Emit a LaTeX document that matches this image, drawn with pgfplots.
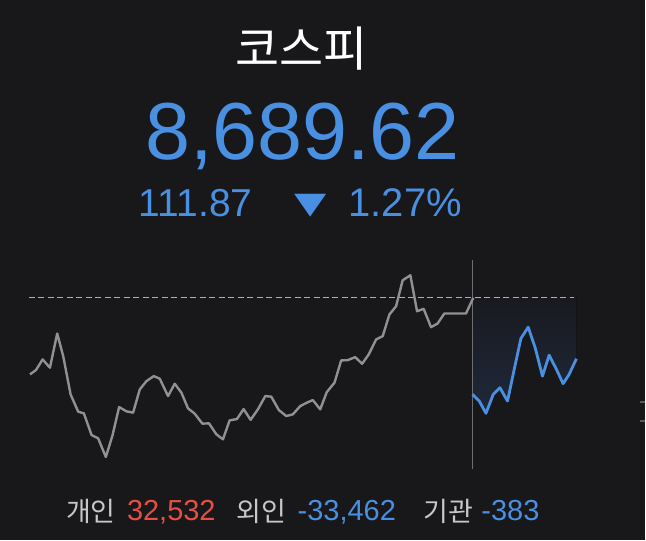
\documentclass[border=0pt]{standalone}
\usepackage{pgfplots}
\pgfplotsset{compat=1.18}
\usepgfplotslibrary{fillbetween}
\usepackage{fontspec}
\setmainfont{Liberation Sans}
\newfontfamily\kr{Noto Sans CJK KR}
\newfontfamily\sym{DejaVu Sans}

\definecolor{bg}{RGB}{24,24,27}
\definecolor{upblue}{RGB}{74,144,226}
\definecolor{upred}{RGB}{229,80,68}
\definecolor{linegray}{RGB}{145,145,147}
\definecolor{txtgray}{RGB}{200,200,202}

% intraday index, x = time slot (px), y = level (px from top)
\pgfplotstableread{
x y
30 375
36 370.7
42.7 360
50 368.3
57.3 334
63.3 356.7
70.7 395
78.3 412.3
84 414
91.7 435.7
98.3 439
106 457.7
112.7 436
119.3 407.7
126.7 412
133.3 413.3
140 390
146.7 381.7
154 376.7
160 379.3
168.3 396.7
175 384.3
181.7 393.3
188.3 409
195 414.3
202.7 424.3
209.3 424
216.7 435
223.3 440
230 421
237.3 419.7
244 409.7
251 420.5
258.3 410
265.7 396.7
271.7 397.3
279.3 410.7
286.7 416.7
293.3 415
300.7 406.7
307.3 403.3
313.3 400.7
320.7 410
327.3 392.7
335 383.3
341.7 361
348.3 360.7
355.7 357.7
362.7 364.3
369.3 355
376.7 340
383.3 336.7
390 315
396.7 306.7
403.3 280.7
411 275.7
417.7 311.7
424.3 309.3
431.7 327.7
438.3 324
445 314
452.3 314
460 314
466.7 314
474 298.3
}\prevday

\pgfplotstableread{
x y
473.3 395
480 401.7
486.7 414
494 395
500.7 388.3
508.3 401.7
515 370
521.7 339
529 327.7
536 348.3
543.3 376.7
550 355.7
557.3 370
564 384.3
570 375
577.3 359.3
}\today

\begin{document}
\begin{tikzpicture}
\begin{axis}[
    width=646bp, height=541bp, scale only axis,
    xmin=0, xmax=646, ymin=0, ymax=541, y dir=reverse,
    axis lines=none, xtick=\empty, ytick=\empty,
    axis background/.style={fill=bg},
    clip=false,
]
% previous close
\addplot[draw=none, name path=base, forget plot] coordinates {(473.3,297.7) (577.3,297.7)};
\addplot[draw=none, name path=cur, forget plot] table[x=x, y=y] {\today};
\addplot[top color={rgb,255:red,25;green,26;blue,32}, bottom color={rgb,255:red,31;green,40;blue,58}, draw=none]
    fill between[of=base and cur];
\addplot[dash pattern=on 6bp off 3.5bp, color={rgb,255:red,175;green,175;blue,178}, line width=1.4bp]
    coordinates {(29,297.7) (575,297.7)};
\addplot[color={rgb,255:red,110;green,110;blue,112}, line width=1.4bp]
    coordinates {(473.3,260) (473.3,470)};
\addplot[linegray, line width=2.4bp, line join=round] table[x=x, y=y] {\prevday};
\addplot[upblue, line width=2.8bp, line join=round] table[x=x, y=y] {\today};
\addplot[color={rgb,255:red,90;green,90;blue,92}, line width=2bp] coordinates {(641,403) (646,403)};
\addplot[color={rgb,255:red,90;green,90;blue,92}, line width=2bp] coordinates {(641,422) (646,422)};

% header
\node[anchor=base, inner sep=0, text=white, font=\kr\fontsize{48bp}{48bp}\selectfont] at (axis cs:302,67) {코스피};
\node[anchor=base, inner sep=0, text=upblue, font=\fontsize{81bp}{81bp}\selectfont] at (axis cs:303,160) {8,689.62};
\node[anchor=base west, inner sep=0, text=upblue, font=\fontsize{39bp}{39bp}\selectfont] at (axis cs:139,217) {111.87};
\node[anchor=base, inner sep=0, xscale=1.4, text=upblue, font=\sym\fontsize{30bp}{30bp}\selectfont] at (axis cs:311.5,214) {▼};
\node[anchor=base west, inner sep=0, text=upblue, font=\fontsize{40bp}{40bp}\selectfont] at (axis cs:349,217) {1.27\%};

% investor flows
\node[anchor=base west, inner sep=0, text=txtgray, font=\kr\fontsize{27bp}{27bp}\selectfont] at (axis cs:66,522) {개인};
\node[anchor=base west, inner sep=0, text=upred, font=\fontsize{29bp}{29bp}\selectfont] at (axis cs:127,521) {32,532};
\node[anchor=base west, inner sep=0, text=txtgray, font=\kr\fontsize{27bp}{27bp}\selectfont] at (axis cs:237,522) {외인};
\node[anchor=base west, inner sep=0, text=upblue, font=\fontsize{29bp}{29bp}\selectfont] at (axis cs:298,521) {-33,462};
\node[anchor=base west, inner sep=0, text=txtgray, font=\kr\fontsize{27bp}{27bp}\selectfont] at (axis cs:424,522) {기관};
\node[anchor=base west, inner sep=0, text=upblue, font=\fontsize{29bp}{29bp}\selectfont] at (axis cs:482,521) {-383};
\end{axis}
\end{tikzpicture}
\end{document}
